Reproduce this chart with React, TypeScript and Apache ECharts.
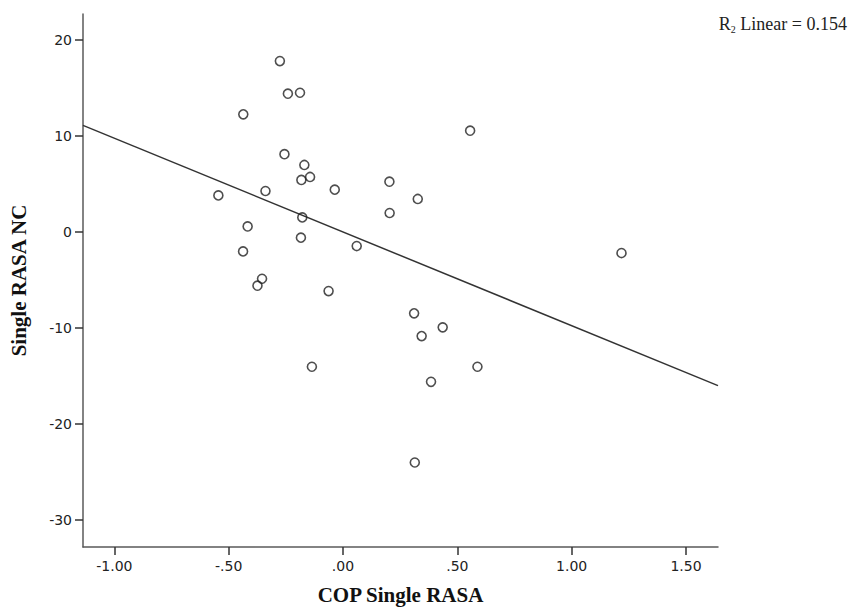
import React, { useEffect, useRef } from "react";
import * as echarts from "echarts";

const copSingleRasa = [
  -0.276, -0.241, -0.188, -0.436, 0.556, -0.256, -0.169, -0.144, -0.182, -0.036,
  0.203, 0.327, 0.204, -0.339, -0.545, -0.178, -0.417, -0.184, 0.06, -0.437,
  -0.354, -0.374, -0.063, 0.311, 0.436, 0.344, -0.136, 0.588, 0.385, 0.314, 1.218,
];
const singleRasaNC = [
  17.8, 14.4, 14.5, 12.25, 10.55, 8.1, 6.98, 5.73, 5.42, 4.41,
  5.24, 3.44, 1.98, 4.27, 3.81, 1.52, 0.58, -0.59, -1.46, -2.02,
  -4.87, -5.59, -6.15, -8.47, -9.93, -10.84, -14.03, -14.03, -15.6, -24.0, -2.19,
];
const fitX = [-1.137, 1.64];
const fitY = [11.1, -16.0];
const xTicks = [-1, -0.5, 0, 0.5, 1, 1.5];
const yTicks = [-30, -20, -10, 0, 10, 20];
const xName = "COP Single RASA";
const yName = "Single RASA NC";
const rSquared = "0.154";

function fmtX(v: number): string {
  const s = Math.abs(v).toFixed(2).replace(/^0/, "");
  return (v < 0 ? "-" : "") + s;
}

export default function App() {
  const ref = useRef<HTMLDivElement>(null);
  useEffect(() => {
    document.body.style.margin = "0";
    if (!ref.current) return;
    const chart = echarts.init(ref.current, null, { renderer: "svg" });
    const axisColor = "#5a5a5a";
    const labelFont = { fontFamily: "DejaVu Sans", fontSize: 14, color: "#222" };
    const nameFont = {
      fontFamily: "Liberation Serif",
      fontWeight: "bold" as const,
      fontSize: 21,
      color: "#111",
    };
    chart.setOption({
      animation: false,
      backgroundColor: "#fff",
      grid: {
        left: 83,
        right: 140,
        top: 14,
        bottom: 60,
        containLabel: false,
        outerBoundsMode: "none",
      },
      xAxis: {
        type: "value",
        min: -1.137,
        max: 1.64,
        name: xName,
        nameLocation: "middle",
        nameGap: 37,
        nameTextStyle: nameFont,
        axisLine: { show: true, onZero: false, lineStyle: { color: axisColor, width: 1.5 } },
        axisTick: {
          show: true,
          length: 8,
          customValues: xTicks,
          lineStyle: { color: "#333", width: 1.5 },
        },
        axisLabel: {
          ...labelFont,
          margin: 12,
          customValues: xTicks,
          formatter: (v: number) => fmtX(v),
        },
        splitLine: { show: false },
      },
      yAxis: {
        type: "value",
        min: -32.8,
        max: 22.7,
        name: yName,
        nameLocation: "middle",
        nameGap: 54,
        nameTextStyle: nameFont,
        axisLine: { show: true, onZero: false, lineStyle: { color: axisColor, width: 1.5 } },
        axisTick: {
          show: true,
          length: 8,
          customValues: yTicks,
          lineStyle: { color: "#333", width: 1.5 },
        },
        axisLabel: {
          ...labelFont,
          margin: 11,
          customValues: yTicks,
          formatter: (v: number) => String(v),
        },
        splitLine: { show: false },
      },
      graphic: [
        {
          type: "text",
          right: 11,
          top: 15,
          style: {
            text: "{r|R}{s|2}{t| Linear = " + rSquared + "}",
            rich: {
              r: { fontFamily: "Liberation Serif", fontSize: 18, fill: "#222" },
              s: {
                fontFamily: "Liberation Serif",
                fontSize: 10,
                fill: "#222",
                padding: [10, 0, 0, 0],
              },
              t: { fontFamily: "Liberation Serif", fontSize: 18, fill: "#222" },
            },
          },
        },
      ],
      series: [
        {
          type: "line",
          data: fitX.map((x, i) => [x, fitY[i]]),
          showSymbol: false,
          symbol: "none",
          lineStyle: { color: "#333", width: 1.5 },
          z: 2,
        },
        {
          type: "scatter",
          data: copSingleRasa.map((x, i) => [x, singleRasaNC[i]]),
          symbol: "circle",
          symbolSize: 9,
          itemStyle: {
            color: "rgba(255,255,255,0)",
            borderColor: "#222",
            borderWidth: 1.6,
          },
          z: 3,
        },
      ],
    });
    return () => chart.dispose();
  }, []);
  return <div ref={ref} style={{ width: 858, height: 607 }} />;
}
